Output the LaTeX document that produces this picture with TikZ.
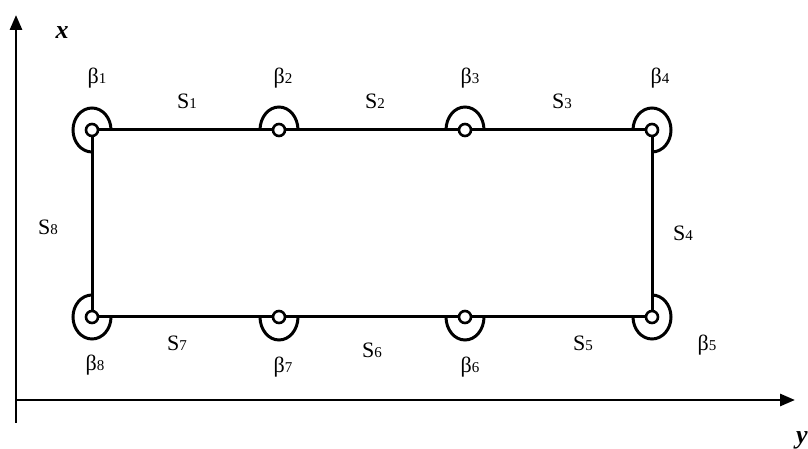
\documentclass[tikz,border=0pt]{standalone}
\usepackage{fontspec}
\setmainfont{Liberation Serif}
\usetikzlibrary{arrows.meta}
\newcommand{\sublab}[2]{#1{\fontsize{15}{15}\selectfont #2}}
\tikzset{
  edge/.style={line width=3pt},
  joint/.style={circle, draw, line width=2.6pt, fill=white, minimum size=12pt, inner sep=0pt},
  jarc/.style={line width=3pt},
  axis/.style={line width=2.8pt, -{Triangle[length=15pt,width=12pt]}},
  lab/.style={font=\fontsize{22}{22}\selectfont, inner sep=0pt},
  axlab/.style={font=\fontsize{26}{26}\selectfont\bfseries\itshape, inner sep=0pt}
}
\begin{document}
\begin{tikzpicture}[x=1pt,y=1pt]
\useasboundingbox (0,0) rectangle (808,449);
% axes
\coordinate (o) at (16,49);
\coordinate (xt) at (16,434);
\coordinate (yt) at (795,49);
\coordinate (ob) at (16,26);
\draw[axis] (ob) -- (xt);
\draw[axis] (o) -- (yt);
\node[axlab] (xl) at (62,416) {x};
\node[axlab, anchor=west] (yl) at (796,9) {y};
% joint positions
\coordinate (b1) at (92,319);
\coordinate (b2) at (279,319);
\coordinate (b3) at (465,319);
\coordinate (b4) at (652,319);
\coordinate (b5) at (652,132);
\coordinate (b6) at (465,132);
\coordinate (b7) at (279,132);
\coordinate (b8) at (92,132);
% rectangle
\draw[edge] (b1) -- (b2) -- (b3) -- (b4) -- (b5) -- (b6) -- (b7) -- (b8) -- cycle;
% arcs
\draw[jarc] ([shift={(19,0)}]b1) arc[start angle=0, end angle=270, x radius=19, y radius=22];
\draw[jarc] ([shift={(-19,0)}]b4) arc[start angle=180, end angle=-90, x radius=19, y radius=22];
\draw[jarc] ([shift={(0,22)}]b8) arc[start angle=90, end angle=360, x radius=19, y radius=22];
\draw[jarc] ([shift={(0,22)}]b5) arc[start angle=90, end angle=-180, x radius=19, y radius=22];
\foreach \p in {b2,b3}{
  \draw[jarc] ([shift={(-19,0)}]\p) arc[start angle=180, end angle=0, x radius=19, y radius=23];
}
\foreach \p in {b7,b6}{
  \draw[jarc] ([shift={(-19,0)}]\p) arc[start angle=180, end angle=360, x radius=19, y radius=23];
}
% joints
\foreach \p in {b1,b2,b3,b4,b5,b6,b7,b8}{
  \node[joint] (j\p) at (\p) {};
}
% labels
\node[lab] (l1) at (97,371) {\sublab{β}{1}};
\node[lab] (l2) at (283,371) {\sublab{β}{2}};
\node[lab] (l3) at (470,371) {\sublab{β}{3}};
\node[lab] (l4) at (660,371) {\sublab{β}{4}};
\node[lab] (l5) at (707,104) {\sublab{β}{5}};
\node[lab] (l6) at (470,82) {\sublab{β}{6}};
\node[lab] (l7) at (283,82) {\sublab{β}{7}};
\node[lab] (l8) at (95,84) {\sublab{β}{8}};
\node[lab] (s1) at (187,348) {\sublab{S}{1}};
\node[lab] (s2) at (375,348) {\sublab{S}{2}};
\node[lab] (s3) at (562,348) {\sublab{S}{3}};
\node[lab] (s4) at (683,216) {\sublab{S}{4}};
\node[lab] (s5) at (583,106) {\sublab{S}{5}};
\node[lab] (s6) at (372,99) {\sublab{S}{6}};
\node[lab] (s7) at (177,106) {\sublab{S}{7}};
\node[lab] (s8) at (48,222) {\sublab{S}{8}};
\end{tikzpicture}
\end{document}
